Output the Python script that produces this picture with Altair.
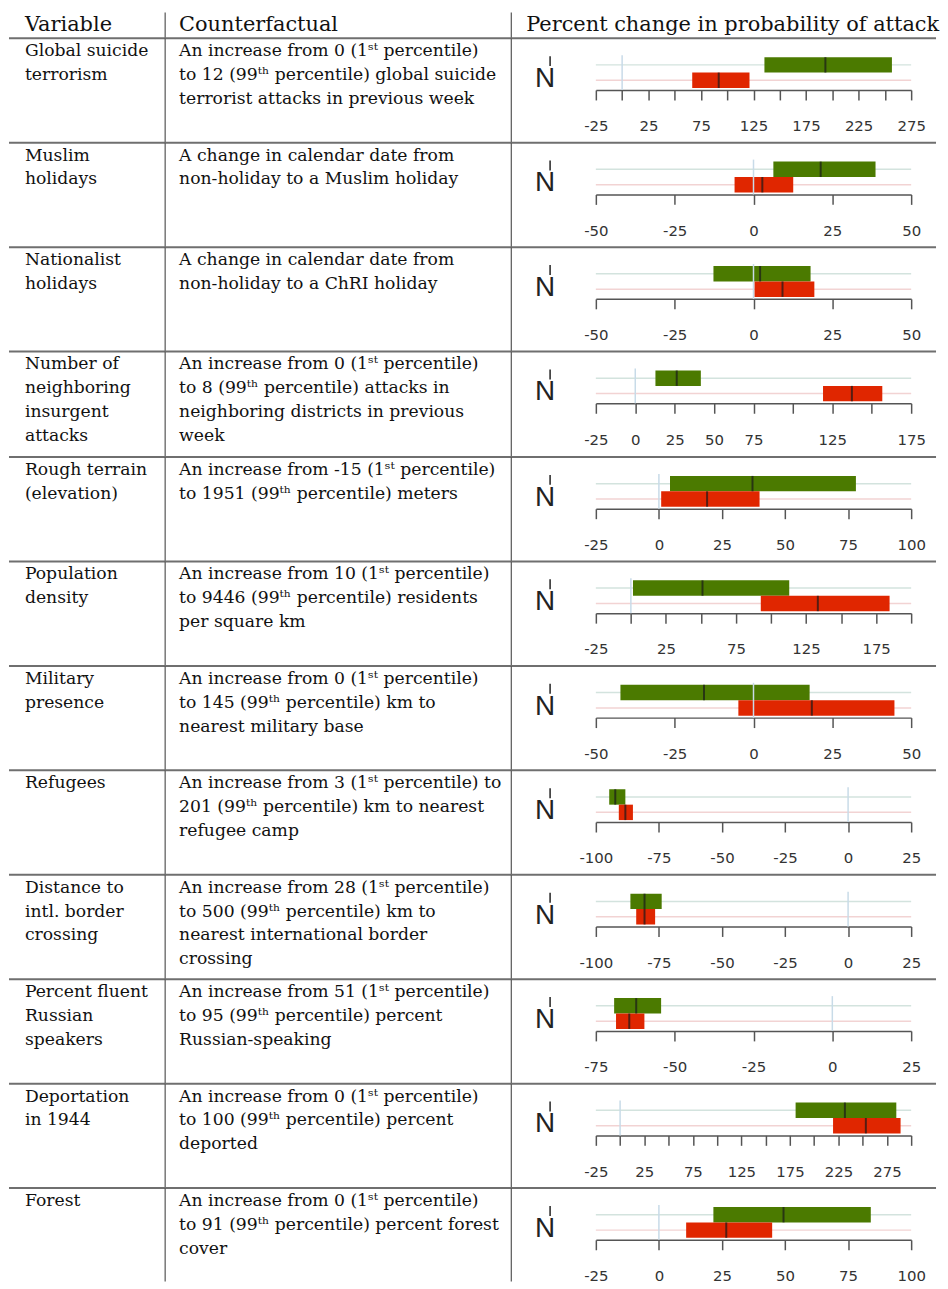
import altair as alt
import pandas as pd

# ---------------- data ----------------
header_texts = ["Variable", "Counterfactual", "Percent change in probability of attack"]

variables = [
    "Global suicide\nterrorism",
    "Muslim\nholidays",
    "Nationalist\nholidays",
    "Number of\nneighboring\ninsurgent\nattacks",
    "Rough terrain\n(elevation)",
    "Population\ndensity",
    "Military\npresence",
    "Refugees",
    "Distance to\nintl. border\ncrossing",
    "Percent fluent\nRussian\nspeakers",
    "Deportation\nin 1944",
    "Forest",
]

counterfactuals = [
    "An increase from 0 (1ˢᵗ percentile)\nto 12 (99ᵗʰ percentile) global suicide\nterrorist attacks in previous week",
    "A change in calendar date from\nnon-holiday to a Muslim holiday",
    "A change in calendar date from\nnon-holiday to a ChRI holiday",
    "An increase from 0 (1ˢᵗ percentile)\nto 8 (99ᵗʰ percentile) attacks in\nneighboring districts in previous\nweek",
    "An increase from -15 (1ˢᵗ percentile)\nto 1951 (99ᵗʰ percentile) meters",
    "An increase from 10 (1ˢᵗ percentile)\nto 9446 (99ᵗʰ percentile) residents\nper square km",
    "An increase from 0 (1ˢᵗ percentile)\nto 145 (99ᵗʰ percentile) km to\nnearest military base",
    "An increase from 3 (1ˢᵗ percentile) to\n201 (99ᵗʰ percentile) km to nearest\nrefugee camp",
    "An increase from 28 (1ˢᵗ percentile)\nto 500 (99ᵗʰ percentile) km to\nnearest international border\ncrossing",
    "An increase from 51 (1ˢᵗ percentile)\nto 95 (99ᵗʰ percentile) percent\nRussian-speaking",
    "An increase from 0 (1ˢᵗ percentile)\nto 100 (99ᵗʰ percentile) percent\ndeported",
    "An increase from 0 (1ˢᵗ percentile)\nto 91 (99ᵗʰ percentile) percent forest\ncover",
]

axis_domains = [
    [-25, 275], [-50, 50], [-50, 50], [-25, 175], [-25, 100], [-25, 200],
    [-50, 50], [-100, 25], [-100, 25], [-75, 25], [-25, 300], [-25, 100],
]

tick_values = [
    [-25, 0, 25, 50, 75, 100, 125, 150, 175, 200, 225, 250, 275],
    [-50, -25, 0, 25, 50],
    [-50, -25, 0, 25, 50],
    [-25, 0, 25, 50, 75, 100, 125, 150, 175],
    [-25, 0, 25, 50, 75, 100],
    [-25, 0, 25, 50, 75, 100, 125, 150, 175, 200],
    [-50, -25, 0, 25, 50],
    [-100, -75, -50, -25, 0, 25],
    [-100, -75, -50, -25, 0, 25],
    [-75, -50, -25, 0, 25],
    [-25, 0, 25, 50, 75, 100, 125, 150, 175, 200, 225, 250, 275, 300],
    [-25, 0, 25, 50, 75, 100],
]

label_values = [
    [-25, 25, 75, 125, 175, 225, 275],
    [-50, -25, 0, 25, 50],
    [-50, -25, 0, 25, 50],
    [-25, 0, 25, 50, 75, 125, 175],
    [-25, 0, 25, 50, 75, 100],
    [-25, 25, 75, 125, 175],
    [-50, -25, 0, 25, 50],
    [-100, -75, -50, -25, 0, 25],
    [-100, -75, -50, -25, 0, 25],
    [-75, -50, -25, 0, 25],
    [-25, 25, 75, 125, 175, 225, 275],
    [-25, 0, 25, 50, 75, 100],
]

green_lo = [135.4, 6.3, -12.7, 12.8, 4.4, 1.5, -42.2, -94.7, -86.3, -69.2, 180.9, 21.6]
green_mid = [193.4, 21.3, 2.1, 26.3, 37.1, 51.1, -15.7, -92.3, -80.7, -62.2, 231.7, 49.4]
green_hi = [256.7, 38.7, 18.1, 41.6, 78.1, 113.0, 17.8, -88.3, -73.9, -54.3, 284.7, 84.0]
red_lo = [66.7, -6.0, 0.3, 119.1, 0.9, 92.7, -4.8, -90.9, -84.0, -68.6, 219.5, 10.8]
red_mid = [91.9, 2.8, 9.2, 137.4, 19.1, 133.4, 18.5, -88.3, -80.7, -64.4, 253.3, 26.7]
red_hi = [121.2, 12.6, 19.3, 156.7, 39.9, 184.6, 44.7, -85.3, -76.5, -59.6, 289.1, 44.9]

reference_value = [0]

# ---------------- layout / style ----------------
COL_W = [157, 348, 427]
HEADER_H = 26
ROW_H = [105, 105, 105, 106, 105, 105, 105, 105, 105, 105, 105, 94]
PLOT_H = 52
X_RANGE = [85, 402]
HLINE = "#6f6f6f"
VLINE = "#555555"
TXT = "#111111"
GREEN = "#4b7a00"
RED = "#e02600"
GREEN_BG = "#d3e3de"
RED_BG = "#f2d3d3"
ZERO = "#c8dbe8"

one = pd.DataFrame({"k": [0]})


def hrule(w):
    return alt.Chart(one).mark_rule(color=HLINE, strokeWidth=2).encode(
        x=alt.value(0), x2=alt.value(w), y=alt.value(0))


def vrule(h):
    return alt.Chart(one).mark_rule(color=VLINE, strokeWidth=1.2).encode(
        x=alt.value(0), y=alt.value(0), y2=alt.value(h))


def text_panel(txt, w, h, x0, y0, size, top=True, left=False):
    opts = dict(align="left", baseline="alphabetic", font="DejaVu Serif",
                fontSize=size, color=TXT)
    if "\n" in txt:
        opts.update(lineBreak="\n", lineHeight=24)
    t = alt.Chart(pd.DataFrame({"t": [txt]})).mark_text(**opts).encode(
        x=alt.value(x0), y=alt.value(y0), text="t:N")
    layers = [t]
    if top:
        layers.append(hrule(w))
    if left:
        layers.append(vrule(h))
    return alt.layer(*layers).properties(width=w, height=h)


def chart_panel(i, h):
    d0, d1 = axis_domains[i]
    df = pd.DataFrame({
        "series": ["g", "r"],
        "lo": [green_lo[i], red_lo[i]],
        "mid": [green_mid[i], red_mid[i]],
        "hi": [green_hi[i], red_hi[i]],
        "dmin": [d0, d0],
        "dmax": [d1, d1],
    })
    labs = ",".join(str(v) for v in label_values[i])
    ax = alt.Axis(
        values=tick_values[i], title=None, grid=False, orient="bottom",
        labelExpr=f"indexof([{labs}], datum.value) >= 0 ? '' + datum.value : ''",
        domainColor="#555555", domainWidth=1.5, tickColor="#555555", tickWidth=1.5,
        tickSize=10, labelFont="DejaVu Sans", labelFontSize=15, labelColor="#333333",
        labelPadding=19, labelFlush=False, labelOverlap=False,
    )
    xs = alt.Scale(domain=[d0, d1], range=X_RANGE, nice=False, zero=False)
    ys = alt.Scale(domain=["g", "r"], range=[19, 50], paddingInner=0, paddingOuter=0)
    base = alt.Chart(df)
    bg = base.mark_rule(strokeWidth=1.5).encode(
        x=alt.X("dmin:Q", scale=xs, axis=ax), x2="dmax:Q",
        y=alt.Y("series:N", scale=ys, axis=None, bandPosition=0.5),
        stroke=alt.Stroke("series:N", scale=alt.Scale(domain=["g", "r"], range=[GREEN_BG, RED_BG]), legend=None),
    )
    bars = base.mark_bar().encode(
        x=alt.X("lo:Q", scale=xs, axis=ax), x2="hi:Q",
        y=alt.Y("series:N", scale=ys, axis=None),
        fill=alt.Fill("series:N", scale=alt.Scale(domain=["g", "r"], range=[GREEN, RED]), legend=None),
    )
    zero = alt.Chart(pd.DataFrame({"z": reference_value})).mark_rule(
        color=ZERO, strokeWidth=1.5).encode(
        x=alt.X("z:Q", scale=xs, axis=ax), y=alt.value(17), y2=alt.value(PLOT_H))
    med = base.mark_tick(color="#1a1a1a", thickness=2, size=15.5).encode(
        x=alt.X("mid:Q", scale=xs, axis=ax),
        y=alt.Y("series:N", scale=ys, axis=None),
    )
    nlab = alt.Chart(one).mark_text(
        text="N", font="Liberation Sans", fontSize=28, align="center",
        baseline="alphabetic", color="#222222").encode(x=alt.value(34), y=alt.value(49))
    nbar = alt.Chart(one).mark_rule(color="#222222", strokeWidth=1.5).encode(
        x=alt.value(39), y=alt.value(18), y2=alt.value(28))
    return alt.layer(bg, bars, zero, med, nlab, nbar, hrule(COL_W[2]), vrule(h)).properties(
        width=COL_W[2], height=PLOT_H)


panels = [
    text_panel(header_texts[0], COL_W[0], HEADER_H, 16, 19, 21, top=False),
    text_panel(header_texts[1], COL_W[1], HEADER_H, 14, 19, 21, top=False, left=True),
    text_panel(header_texts[2], COL_W[2], HEADER_H, 15, 19, 21, top=False, left=True),
]
for i in range(len(variables)):
    h = ROW_H[i]
    panels.append(text_panel(variables[i], COL_W[0], h, 16, 18, 17.3))
    panels.append(text_panel(counterfactuals[i], COL_W[1], h, 14, 18, 17.3, left=True))
    panels.append(chart_panel(i, h))

chart = alt.concat(
    *panels, columns=3, spacing=0, bounds="flush", align="each", padding=0
).configure_view(stroke=None)

chart.save("out.html", embed_options={"renderer": "svg", "actions": False})
